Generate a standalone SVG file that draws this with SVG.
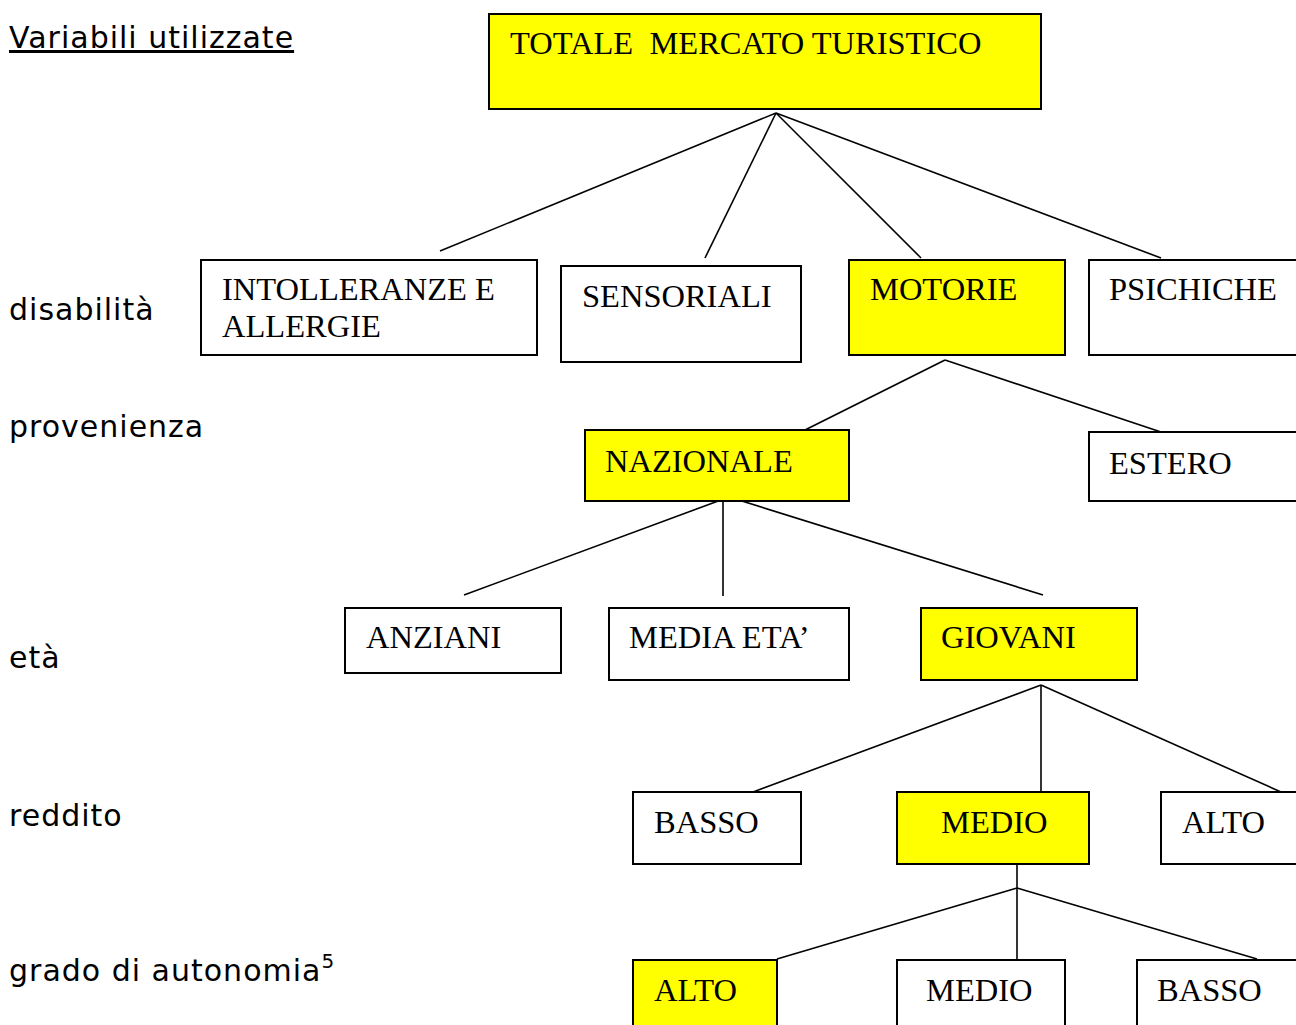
<svg xmlns="http://www.w3.org/2000/svg" width="1296" height="1025" viewBox="0 0 1296 1025">
  <style>
    .box { fill: #ffffff; stroke: #000000; stroke-width: 2; }
    .sel { fill: #ffff00; stroke: #000000; stroke-width: 2; }
    .lbl { font-family: "Liberation Serif", "Times New Roman", serif; font-size: 32.5px; fill: #000000; }
    .var { font-family: "DejaVu Sans", Verdana, sans-serif; font-size: 30px; letter-spacing: 1px; fill: #000000; }
    .edge { stroke: #000000; stroke-width: 1.6; fill: none; }
  </style>
  <rect width="1296" height="1025" fill="#ffffff"/>

  <!-- variable names on the left -->
  <g id="variables">
    <text class="var" x="9" y="48" text-decoration="underline">Variabili utilizzate</text>
    <text class="var" x="9" y="320">disabilità</text>
    <text class="var" x="9" y="437">provenienza</text>
    <text class="var" x="9" y="668">età</text>
    <text class="var" x="9" y="826">reddito</text>
    <text class="var" x="9" y="981">grado di autonomia<tspan font-size="20" dy="-13">5</tspan></text>
  </g>

  <!-- tree connectors -->
  <g id="connectors">
    <line class="edge" x1="776" y1="113" x2="440" y2="251"/>
    <line class="edge" x1="776" y1="113" x2="705" y2="258"/>
    <line class="edge" x1="776" y1="113" x2="921" y2="258"/>
    <line class="edge" x1="776" y1="113" x2="1161" y2="258"/>

    <line class="edge" x1="945" y1="360" x2="801" y2="432"/>
    <line class="edge" x1="945" y1="360" x2="1161" y2="432"/>

    <line class="edge" x1="729" y1="497" x2="464" y2="595"/>
    <line class="edge" x1="723" y1="499" x2="723" y2="596"/>
    <line class="edge" x1="729" y1="497" x2="1043" y2="595"/>

    <line class="edge" x1="1041" y1="685" x2="753" y2="792"/>
    <line class="edge" x1="1041" y1="685" x2="1041" y2="800"/>
    <line class="edge" x1="1041" y1="685" x2="1281" y2="792"/>

    <line class="edge" x1="1017" y1="864" x2="1017" y2="960"/>
    <line class="edge" x1="1017" y1="888" x2="777" y2="959"/>
    <line class="edge" x1="1017" y1="888" x2="1257" y2="959"/>
  </g>

  <g id="totale">
    <rect class="sel" x="489" y="14" width="552" height="95"/>
    <text class="lbl" x="510" y="54" xml:space="preserve">TOTALE  MERCATO TURISTICO</text>
  </g>

  <g id="intolleranze">
    <rect class="box" x="201" y="260" width="336" height="95"/>
    <text class="lbl" x="222" y="300">INTOLLERANZE E</text>
    <text class="lbl" x="222" y="337">ALLERGIE</text>
  </g>
  <g id="sensoriali">
    <rect class="box" x="561" y="266" width="240" height="96"/>
    <text class="lbl" x="582" y="307">SENSORIALI</text>
  </g>
  <g id="motorie">
    <rect class="sel" x="849" y="260" width="216" height="95"/>
    <text class="lbl" x="870" y="300">MOTORIE</text>
  </g>
  <g id="psichiche">
    <rect class="box" x="1089" y="260" width="230" height="95"/>
    <text class="lbl" x="1109" y="300">PSICHICHE</text>
  </g>

  <g id="nazionale">
    <rect class="sel" x="585" y="430" width="264" height="71"/>
    <text class="lbl" x="605" y="472">NAZIONALE</text>
  </g>
  <g id="estero">
    <rect class="box" x="1089" y="432" width="230" height="69"/>
    <text class="lbl" x="1109" y="474">ESTERO</text>
  </g>

  <g id="anziani">
    <rect class="box" x="345" y="608" width="216" height="65"/>
    <text class="lbl" x="366" y="648">ANZIANI</text>
  </g>
  <g id="media-eta">
    <rect class="box" x="609" y="608" width="240" height="72"/>
    <text class="lbl" x="629" y="648">MEDIA ETA’</text>
  </g>
  <g id="giovani">
    <rect class="sel" x="921" y="608" width="216" height="72"/>
    <text class="lbl" x="941" y="648">GIOVANI</text>
  </g>

  <g id="reddito-basso">
    <rect class="box" x="633" y="792" width="168" height="72"/>
    <text class="lbl" x="654" y="833">BASSO</text>
  </g>
  <g id="reddito-medio">
    <rect class="sel" x="897" y="792" width="192" height="72"/>
    <text class="lbl" x="941" y="833">MEDIO</text>
  </g>
  <g id="reddito-alto">
    <rect class="box" x="1161" y="792" width="160" height="72"/>
    <text class="lbl" x="1182" y="833">ALTO</text>
  </g>

  <g id="autonomia-alto">
    <rect class="sel" x="633" y="960" width="144" height="80"/>
    <text class="lbl" x="654" y="1001">ALTO</text>
  </g>
  <g id="autonomia-medio">
    <rect class="box" x="897" y="960" width="168" height="80"/>
    <text class="lbl" x="926" y="1001">MEDIO</text>
  </g>
  <g id="autonomia-basso">
    <rect class="box" x="1137" y="960" width="180" height="80"/>
    <text class="lbl" x="1157" y="1001">BASSO</text>
  </g>
</svg>
